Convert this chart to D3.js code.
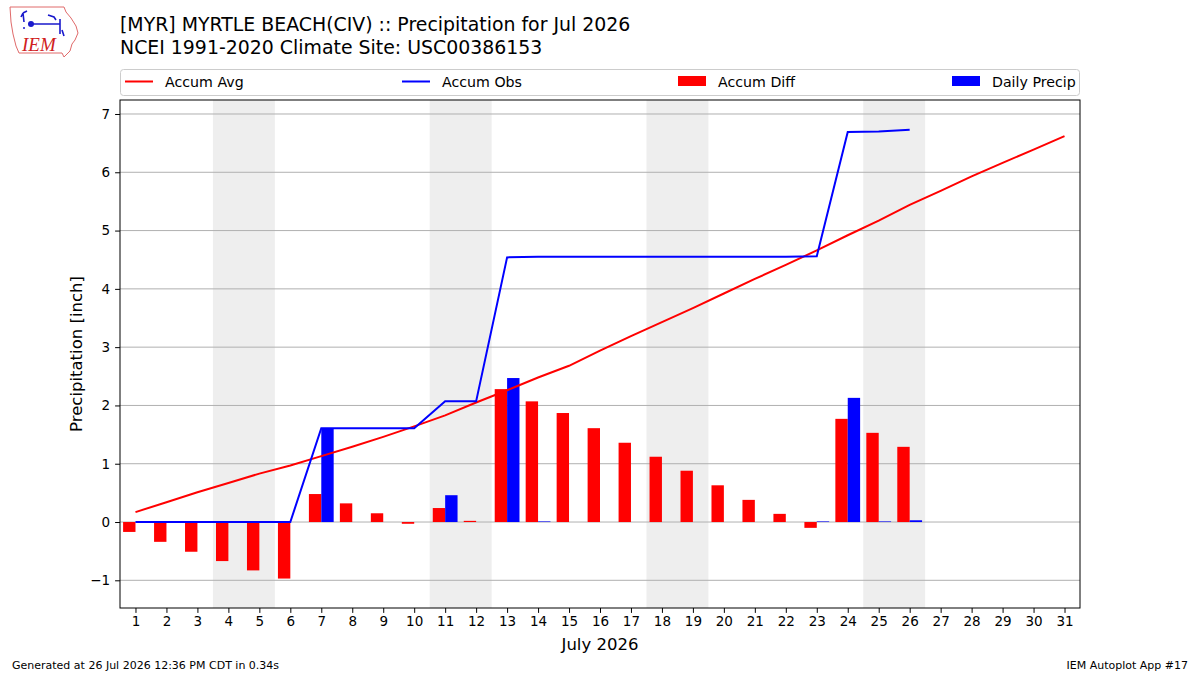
<!DOCTYPE html>
<html>
<head>
<meta charset="utf-8">
<script src="https://cdn.jsdelivr.net/npm/d3@7"></script>
<style>
  html, body { margin: 0; padding: 0; background: #fff; }
  svg { display: block; }
</style>
</head>
<body>
<div id="chart"></div>
<script>
// Days of July 2026 shown on the x axis
const days = d3.range(1, 32);
// Observed days (1..26)
const obsDays = d3.range(1, 27);

// Accumulated climatology (inch), days 1..31
const accumAvg = [0.17, 0.34, 0.51, 0.67, 0.83, 0.97, 1.13, 1.29, 1.46, 1.64,
  1.83, 2.05, 2.26, 2.48, 2.68, 2.94, 3.19, 3.43, 3.67, 3.92,
  4.17, 4.41, 4.66, 4.92, 5.17, 5.44, 5.68, 5.93, 6.16, 6.39, 6.62];

// Accumulated observed (inch), days 1..26
const accumObs = [0, 0, 0, 0, 0, 0, 1.61, 1.61, 1.61, 1.61,
  2.07, 2.07, 4.54, 4.55, 4.55, 4.55, 4.55, 4.55, 4.55, 4.55,
  4.55, 4.55, 4.56, 6.69, 6.70, 6.73];

// Accumulated difference obs - avg, days 1..26
const accumDiff = [-0.17, -0.34, -0.51, -0.67, -0.83, -0.97, 0.48, 0.32, 0.15, -0.03,
  0.24, 0.02, 2.28, 2.07, 1.87, 1.61, 1.36, 1.12, 0.88, 0.63,
  0.38, 0.14, -0.10, 1.77, 1.53, 1.29];

// Daily precipitation (inch), days 1..26
const dailyPrecip = [0, 0, 0, 0, 0, 0, 1.61, 0, 0, 0,
  0.46, 0, 2.47, 0.01, 0, 0, 0, 0, 0, 0,
  0, 0, 0.01, 2.13, 0.01, 0.03];

// Weekend days (Sat, Sun) shaded
const weekends = [4, 11, 18, 25];

const yTicks = [-1, 0, 1, 2, 3, 4, 5, 6, 7];

const titleLines = [
  '[MYR] MYRTLE BEACH(CIV) :: Precipitation for Jul 2026',
  'NCEI 1991-2020 Climate Site: USC00386153'
];

const font = "'DejaVu Sans', sans-serif";
const W = 1200, H = 675;
const margin = { top: 100, right: 120, bottom: 67, left: 120 };
const w = W - margin.left - margin.right;
const h = H - margin.top - margin.bottom;

const svg = d3.select('#chart').append('svg')
  .attr('width', W).attr('height', H)
  .style('font-family', font);

// --- title
svg.selectAll('.title')
  .data(titleLines)
  .join('text')
  .attr('x', 120)
  .attr('y', (d, i) => 31 + i * 23)
  .attr('font-size', '18.9px')
  .attr('fill', '#000')
  .text(d => d);

// --- IEM logo (rough)
const logo = svg.append('g').attr('transform', 'translate(0,0)');
logo.append('path')
  .attr('d', 'M10,7 L64,7 L66,12 L71,18 L76,26 L78,33 L75,40 L72,44 L70,51 L66,55 L64,57 L62,53 L19,53 L16,46 L13,34 L11,22 Z')
  .attr('fill', 'none').attr('stroke', '#e06a6a').attr('stroke-width', 1);
logo.append('path')
  .attr('d', 'M31,24 L60,24 M60,19 L60,34 M24,22 L23,13 M23,13 L21,17 M23,13 L27,11 M48,15 L54,17 L56,20 M62,30 L64,36')
  .attr('fill', 'none').attr('stroke', '#1a1acc').attr('stroke-width', 1.6);
logo.append('circle').attr('cx', 31).attr('cy', 24).attr('r', 3).attr('fill', '#1a1acc');
logo.append('circle').attr('cx', 24).attr('cy', 28).attr('r', 1).attr('fill', '#1a1acc');
logo.append('text')
  .attr('x', 22).attr('y', 51)
  .attr('font-family', "'Liberation Serif', serif")
  .attr('font-style', 'italic')
  .attr('font-size', '19px')
  .attr('fill', '#d02020')
  .text('IEM');

const g = svg.append('g').attr('transform', `translate(${margin.left},${margin.top})`);

// Scales
const x = d3.scaleLinear().domain([0.5, 31.5]).range([0, w]);
const y = d3.scaleLinear().domain([-1.475, 7.24]).range([h, 0]);
const barW = x(0.4) - x(0);

// Weekend shading
g.selectAll('.wkd')
  .data(weekends)
  .join('rect')
  .attr('x', d => x(d - 0.5))
  .attr('width', d => x(d + 1.5) - x(d - 0.5))
  .attr('y', 0).attr('height', h)
  .attr('fill', '#eeeeee');

// Grid lines
g.append('g')
  .selectAll('line')
  .data(yTicks)
  .join('line')
  .attr('x1', 0).attr('x2', w)
  .attr('y1', d => y(d)).attr('y2', d => y(d))
  .attr('stroke', '#b0b0b0').attr('stroke-width', 1);

// Accum diff bars (left of the day)
g.selectAll('.diff')
  .data(accumDiff)
  .join('rect')
  .attr('x', (d, i) => x(obsDays[i]) - barW)
  .attr('width', barW)
  .attr('y', d => y(Math.max(0, d)))
  .attr('height', d => Math.abs(y(d) - y(0)))
  .attr('fill', '#ff0000');

// Daily precip bars (right of the day)
g.selectAll('.daily')
  .data(dailyPrecip)
  .join('rect')
  .attr('x', (d, i) => x(obsDays[i]))
  .attr('width', barW)
  .attr('y', d => y(d))
  .attr('height', d => y(0) - y(d))
  .attr('fill', '#0000ff');

// Lines
const line = d3.line().x(d => x(d[0])).y(d => y(d[1]));
g.append('path')
  .datum(days.map((d, i) => [d, accumAvg[i]]))
  .attr('d', line)
  .attr('fill', 'none').attr('stroke', '#ff0000').attr('stroke-width', 2);
g.append('path')
  .datum(obsDays.map((d, i) => [d, accumObs[i]]))
  .attr('d', line)
  .attr('fill', 'none').attr('stroke', '#0000ff').attr('stroke-width', 2);

// Axes
const yAxis = g.append('g')
  .call(d3.axisLeft(y).tickValues(yTicks).tickSize(4.9).tickPadding(5)
    .tickFormat(d => d < 0 ? '\u2212' + Math.abs(d) : d));
const xAxis = g.append('g')
  .attr('transform', `translate(0,${h})`)
  .call(d3.axisBottom(x).tickValues(days).tickSize(4.9).tickPadding(4).tickFormat(d3.format('d')));
[xAxis, yAxis].forEach(a => {
  a.select('.domain').remove();
  a.selectAll('text').attr('font-size', '13.5px').attr('fill', '#000').attr('font-family', font);
  a.selectAll('line').attr('stroke', '#000').attr('stroke-width', 1);
});

// Frame
g.append('rect')
  .attr('x', 0).attr('y', 0).attr('width', w).attr('height', h)
  .attr('fill', 'none').attr('stroke', '#000').attr('stroke-width', 1);

// Axis labels
g.append('text')
  .attr('transform', `translate(${-38},${h / 2}) rotate(-90)`)
  .attr('text-anchor', 'middle')
  .attr('font-size', '16.5px')
  .text('Precipitation [inch]');
g.append('text')
  .attr('x', w / 2).attr('y', h + 42)
  .attr('text-anchor', 'middle')
  .attr('font-size', '16.5px')
  .text('July 2026');

// Legend
const legend = svg.append('g');
legend.append('rect')
  .attr('x', 120.5).attr('y', 69.5).attr('width', 959).attr('height', 26)
  .attr('rx', 3)
  .attr('fill', '#fff').attr('stroke', '#cccccc');
const legendItems = [
  { label: 'Accum Avg', color: '#ff0000', type: 'line', x: 125 },
  { label: 'Accum Obs', color: '#0000ff', type: 'line', x: 402 },
  { label: 'Accum Diff', color: '#ff0000', type: 'rect', x: 678 },
  { label: 'Daily Precip', color: '#0000ff', type: 'rect', x: 952 }
];
legendItems.forEach(it => {
  if (it.type === 'line') {
    legend.append('line')
      .attr('x1', it.x).attr('x2', it.x + 28).attr('y1', 81.5).attr('y2', 81.5)
      .attr('stroke', it.color).attr('stroke-width', 2);
  } else {
    legend.append('rect')
      .attr('x', it.x).attr('y', 76).attr('width', 28).attr('height', 10)
      .attr('fill', it.color);
  }
  legend.append('text')
    .attr('x', it.x + 40).attr('y', 86.5)
    .attr('font-size', '14.2px')
    .text(it.label);
});

// Footer
svg.append('text')
  .attr('x', 12).attr('y', 669)
  .attr('font-size', '11px')
  .text('Generated at 26 Jul 2026 12:36 PM CDT in 0.34s');
svg.append('text')
  .attr('x', 1188).attr('y', 669)
  .attr('text-anchor', 'end')
  .attr('font-size', '11px')
  .text('IEM Autoplot App #17');
</script>
</body>
</html>
